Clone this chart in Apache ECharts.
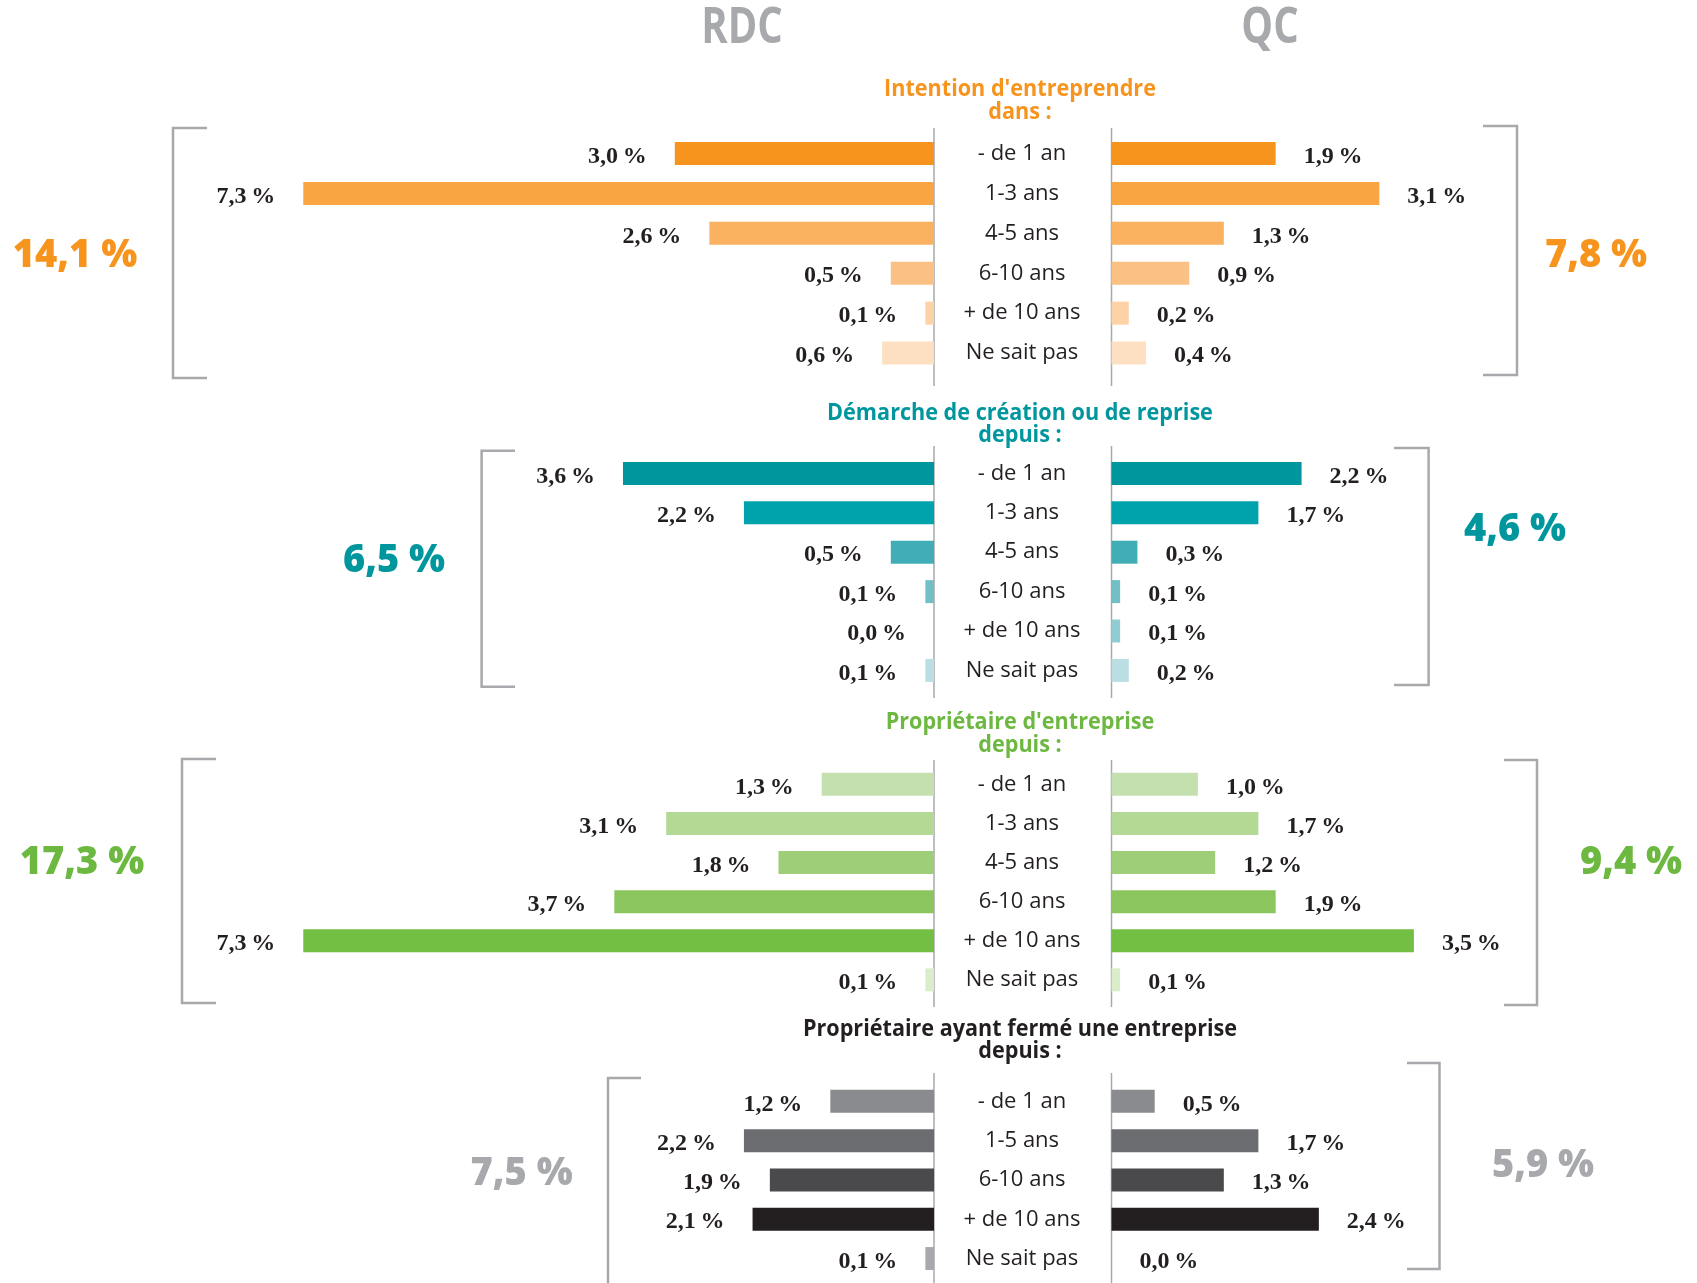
<!DOCTYPE html>
<html lang="fr">
<head>
  <meta charset="UTF-8">
  <title>RDC / QC</title>
  <style>
    html, body { margin: 0; padding: 0; background: #fff; }
    #chart { width: 1697px; height: 1283px; }
  </style>
</head>
<body>
  <div id="chart"></div>
  <script src="https://cdn.jsdelivr.net/npm/echarts@6/dist/echarts.min.js"></script>
  <script>
    // categories
    var catsAns = ['- de 1 an', '1-3 ans', '4-5 ans', '6-10 ans', '+ de 10 ans', 'Ne sait pas'];
    var catsFerme = ['- de 1 an', '1-5 ans', '6-10 ans', '+ de 10 ans', 'Ne sait pas'];

    // valeurs (%)
    var intentionRDC = [3.0, 7.3, 2.6, 0.5, 0.1, 0.6];
    var intentionQC = [1.9, 3.1, 1.3, 0.9, 0.2, 0.4];
    var demarcheRDC = [3.6, 2.2, 0.5, 0.1, 0.0, 0.1];
    var demarcheQC = [2.2, 1.7, 0.3, 0.1, 0.1, 0.2];
    var proprioRDC = [1.3, 3.1, 1.8, 3.7, 7.3, 0.1];
    var proprioQC = [1.0, 1.7, 1.2, 1.9, 3.5, 0.1];
    var fermeRDC = [1.2, 2.2, 1.9, 2.1, 0.1];
    var fermeQC = [0.5, 1.7, 1.3, 2.4, 0.0];

    var totalRDC = [14.1, 6.5, 17.3, 7.5];
    var totalQC = [7.8, 4.6, 9.4, 5.9];

    var titles = [
      ["Intention d'entreprendre", 'dans :'],
      ['Démarche de création ou de reprise', 'depuis :'],
      ["Propriétaire d'entreprise", 'depuis :'],
      ['Propriétaire ayant fermé une entreprise', 'depuis :']
    ];

    // couleurs
    var palettes = [
      ['#F7941E', '#F9A541', '#FAB160', '#FBC084', '#FCD2A6', '#FDE0C2'],
      ['#00969E', '#00A3AB', '#41AEB7', '#72C0C6', '#90CDD2', '#BBDEE2'],
      ['#C5E0AF', '#B3D995', '#9ECF78', '#8AC65D', '#72BF44', '#DAEDCB'],
      ['#8A8B8E', '#6C6D70', '#4A4A4C', '#231F20', '#A8A9AD']
    ];
    var titleColors = ['#F7941E', '#00969E', '#6DB840', '#231F20'];
    var totalColors = ['#F7941E', '#00969E', '#6DB840', '#A8A9AD'];

    // mise en page (px)
    var axisL = 934, axisR = 1111.5, pxPerPct = 86.4, xMax = 8;
    var sections = [
      { cats: catsAns, rdc: intentionRDC, qc: intentionQC, top: 133.6, pitch: 39.9,
        titleY: [89, 112], line: [128, 386],
        bl: { x: 173, y1: 128, y2: 378, t: 207 }, br: { x: 1517, y1: 126, y2: 375, t: 1483 },
        totL: [75, 256], totR: [1596, 256] },
      { cats: catsAns, rdc: demarcheRDC, qc: demarcheQC, top: 453.7, pitch: 39.4,
        titleY: [413, 435], line: [446, 698],
        bl: { x: 481.6, y1: 450.7, y2: 686.7, t: 515 }, br: { x: 1428.6, y1: 448, y2: 685, t: 1394 },
        totL: [394, 561], totR: [1515, 530] },
      { cats: catsAns, rdc: proprioRDC, qc: proprioQC, top: 764.8, pitch: 39.1,
        titleY: [722, 745], line: [760, 1007],
        bl: { x: 182, y1: 759, y2: 1003, t: 216 }, br: { x: 1537, y1: 760, y2: 1005, t: 1504 },
        totL: [82, 863], totR: [1631, 863] },
      { cats: catsFerme, rdc: fermeRDC, qc: fermeQC, top: 1081.7, pitch: 39.3,
        titleY: [1029, 1051], line: [1073, 1290],
        bl: { x: 608, y1: 1078, y2: 1300, t: 641 }, br: { x: 1439.5, y1: 1063, y2: 1269, t: 1407 },
        totL: [521.6, 1174], totR: [1543, 1166] }
    ];

    function pct(v, sp) {
      return v.toFixed(1).replace('.', ',') + sp + '%';
    }

    var grid = [], xAxis = [], yAxis = [], series = [], graphic = [];
    var gray = '#A7A9AC';

    graphic.push({ type: 'text', x: 742, y: 29, scaleX: 0.8, silent: true,
      style: { text: 'RDC', fill: '#A7A9AC', font: 'bold 50px "Open Sans"', textAlign: 'center', textVerticalAlign: 'middle' } });
    graphic.push({ type: 'text', x: 1270, y: 29, scaleX: 0.8, silent: true,
      style: { text: 'QC', fill: '#A7A9AC', font: 'bold 50px "Open Sans"', textAlign: 'center', textVerticalAlign: 'middle' } });

    sections.forEach(function (s, i) {
      var h = s.cats.length * s.pitch;
      var pal = palettes[i];
      var colorFn = function (p) { return pal[p.dataIndex]; };
      var valueLabel = {
        show: true, distance: 28, offset: [0, 3],
        fontFamily: '"Liberation Serif", serif', fontWeight: 'bold', fontSize: 24, color: '#231F20',
        formatter: function (p) { return pct(p.value, '\u2009'); }
      };

      // gauche (RDC)
      grid.push({ left: axisL - xMax * pxPerPct, top: s.top, width: xMax * pxPerPct, height: h, outerBoundsMode: 'none' });
      xAxis.push({ gridIndex: 2 * i, type: 'value', min: 0, max: xMax, inverse: true, show: false });
      yAxis.push({
        gridIndex: 2 * i, type: 'category', data: s.cats, inverse: true, position: 'right',
        axisLine: { show: false }, axisTick: { show: false }, splitLine: { show: false },
        axisLabel: { margin: 88, align: 'center', fontFamily: '"Open Sans"', fontSize: 22, color: '#231F20' }
      });
      series.push({
        type: 'bar', xAxisIndex: 2 * i, yAxisIndex: 2 * i, data: s.rdc, barWidth: 23,
        itemStyle: { color: colorFn },
        label: Object.assign({ position: 'left' }, valueLabel)
      });

      // droite (QC)
      grid.push({ left: axisR, top: s.top, width: xMax * pxPerPct, height: h, outerBoundsMode: 'none' });
      xAxis.push({ gridIndex: 2 * i + 1, type: 'value', min: 0, max: xMax, show: false });
      yAxis.push({
        gridIndex: 2 * i + 1, type: 'category', data: s.cats, inverse: true,
        axisLine: { show: false }, axisTick: { show: false }, axisLabel: { show: false }, splitLine: { show: false }
      });
      series.push({
        type: 'bar', xAxisIndex: 2 * i + 1, yAxisIndex: 2 * i + 1, data: s.qc, barWidth: 23,
        itemStyle: { color: colorFn },
        label: Object.assign({ position: 'right' }, valueLabel)
      });

      // titre de section
      s.titleY.forEach(function (ty, k) {
        graphic.push({ type: 'text', x: 1020, y: ty, scaleX: 0.9, silent: true,
          style: { text: titles[i][k], fill: titleColors[i], font: 'bold 24px "Open Sans"', textAlign: 'center', textVerticalAlign: 'middle' } });
      });

      // lignes verticales
      [axisL, axisR].forEach(function (x) {
        graphic.push({ type: 'line', silent: true, shape: { x1: x, y1: s.line[0], x2: x, y2: s.line[1] },
          style: { stroke: gray, lineWidth: 1.5 } });
      });

      // crochets
      graphic.push({ type: 'polyline', silent: true,
        shape: { points: [[s.bl.t, s.bl.y1], [s.bl.x, s.bl.y1], [s.bl.x, s.bl.y2], [s.bl.t, s.bl.y2]] },
        style: { stroke: gray, lineWidth: 2.5, fill: null } });
      graphic.push({ type: 'polyline', silent: true,
        shape: { points: [[s.br.t, s.br.y1], [s.br.x, s.br.y1], [s.br.x, s.br.y2], [s.br.t, s.br.y2]] },
        style: { stroke: gray, lineWidth: 2.5, fill: null } });

      // totaux
      graphic.push({ type: 'text', x: s.totL[0], y: s.totL[1], silent: true,
        style: { text: pct(totalRDC[i], ' '), fill: totalColors[i], font: '800 38px "Open Sans"', textAlign: 'center', textVerticalAlign: 'middle' } });
      graphic.push({ type: 'text', x: s.totR[0], y: s.totR[1], silent: true,
        style: { text: pct(totalQC[i], ' '), fill: totalColors[i], font: '800 38px "Open Sans"', textAlign: 'center', textVerticalAlign: 'middle' } });
    });

    var chart = echarts.init(document.getElementById('chart'));
    chart.setOption({
      backgroundColor: '#fff',
      animation: false,
      grid: grid,
      xAxis: xAxis,
      yAxis: yAxis,
      series: series,
      graphic: graphic
    });
  </script>
</body>
</html>
